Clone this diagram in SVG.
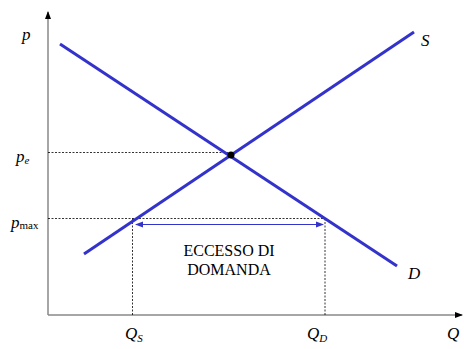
<svg xmlns="http://www.w3.org/2000/svg" width="464" height="349" viewBox="0 0 464 349">
<defs>
<marker id="axarr" markerWidth="8" markerHeight="8" refX="7" refY="4" orient="auto" markerUnits="userSpaceOnUse"><path d="M0,1 L8,4 L0,7 Z" fill="#000"/></marker>
<marker id="bArr" markerWidth="8" markerHeight="8" refX="7" refY="4" orient="auto-start-reverse" markerUnits="userSpaceOnUse"><path d="M0,1 L8,4 L0,7 Z" fill="#3333cc"/></marker>
</defs>
<style>
.ax{stroke:#888;stroke-width:1.5;fill:none}
.curve{stroke:#3333cc;stroke-width:3;fill:none;stroke-linecap:butt}
.dot{stroke:#000;stroke-width:0.8;stroke-dasharray:2,1.5;fill:none}
.lab{font-style:italic;font-size:17px;fill:#000}
.sub{font-style:italic;font-size:11px;fill:#000}
.subn{font-style:normal;font-size:11px;fill:#000}
.txt{font-style:normal;font-size:16px;fill:#000;text-anchor:middle}
</style>
<rect width="464" height="349" fill="#fff"/>
<g id="connectors">
<line class="ax" x1="48" y1="315" x2="48" y2="12" marker-end="url(#axarr)"/>
<line class="ax" x1="48" y1="315" x2="462" y2="315" marker-end="url(#axarr)"/>
<line class="dot" x1="48" y1="152.5" x2="231" y2="152.5"/>
<line class="dot" x1="48" y1="218.5" x2="325" y2="218.5"/>
<line class="dot" x1="132.5" y1="218.5" x2="132.5" y2="315"/>
<line class="dot" x1="325" y1="218.5" x2="325" y2="315"/>
<line x1="136" y1="224.5" x2="323" y2="224.5" stroke="#3333cc" stroke-width="1" marker-start="url(#bArr)" marker-end="url(#bArr)"/>
</g>
<g font-family="'Liberation Serif','Times New Roman','DejaVu Serif',serif">
<g id="demand"><line class="curve" x1="60" y1="44" x2="397" y2="266"/><text class="lab" x="408" y="279">D</text></g>
<g id="supply"><line class="curve" x1="84" y1="254" x2="414" y2="32"/><text class="lab" x="421" y="46">S</text></g>
<g id="equilibrium"><circle cx="231" cy="155" r="3.5" fill="#000"/></g>
<g id="axis-labels">
<text class="lab" x="22" y="40">p</text>
<text class="lab" x="447" y="339">Q</text>
<text class="lab" x="16" y="162">p<tspan class="sub" dy="2">e</tspan></text>
<text class="lab" x="11" y="228">p<tspan class="subn" dy="1">max</tspan></text>
<text class="lab" x="125" y="339">Q<tspan class="sub" dy="3">S</tspan></text>
<text class="lab" x="307" y="339">Q<tspan class="sub" dy="3">D</tspan></text>
</g>
<g id="excess-label">
<text class="txt" x="229" y="256">ECCESSO DI</text>
<text class="txt" x="229" y="275">DOMANDA</text>
</g>
</g>
</svg>
